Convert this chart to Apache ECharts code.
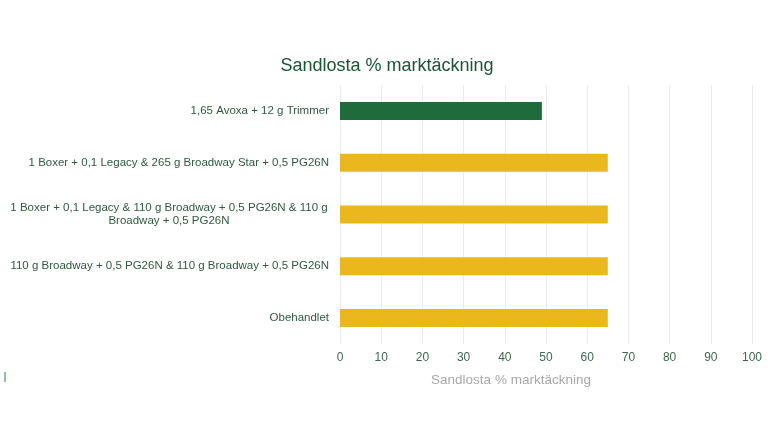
<!DOCTYPE html>
<html>
<head>
    <meta charset="utf-8">
    <title>Sandlosta % marktäckning</title>
    <script src="https://cdn.jsdelivr.net/npm/echarts/dist/echarts.min.js"></script>
</head>
<body style="margin:0">
<div id="chart-container" style="width: 768px; height: 432px;"></div>
<script>
    // behandlingar (uppifrån och ned)
    var treatments = [
        '1,65 Avoxa + 12 g Trimmer',
        '1 Boxer + 0,1 Legacy & 265 g Broadway Star + 0,5 PG26N',
        '1 Boxer + 0,1 Legacy & 110 g Broadway + 0,5 PG26N & 110 g\nBroadway + 0,5 PG26N',
        '110 g Broadway + 0,5 PG26N & 110 g Broadway + 0,5 PG26N',
        'Obehandlet'
    ];
    // marktäckning i procent
    var coverage = [49, 65, 65, 65, 65];
    var xTicks = [0, 10, 20, 30, 40, 50, 60, 70, 80, 90, 100];

    var barColors = ['#1e6b3b', '#eab81c', '#eab81c', '#eab81c', '#eab81c'];

    var option = {
        textStyle: { fontFamily: 'Liberation Sans, Arial, sans-serif' },
        title: {
            text: 'Sandlosta % marktäckning',
            left: 382,
            textAlign: 'center',
            top: 52,
            textStyle: {
                color: '#1b5532',
                fontSize: 18,
                fontWeight: 'normal'
            }
        },
        grid: {
            left: 340,
            right: 16,
            top: 85,
            bottom: 88
        },
        xAxis: {
            type: 'value',
            min: xTicks[0],
            max: xTicks[xTicks.length - 1],
            interval: 10,
            name: 'Sandlosta % marktäckning',
            nameLocation: 'middle',
            nameGap: 29,
            nameTextStyle: { color: '#a8a8a8', fontSize: 13.5, padding: [0, 70, 0, 0] },
            axisLine: { show: false },
            axisTick: { show: false },
            axisLabel: { color: '#3e6a4c', fontSize: 12, margin: 8 },
            splitLine: { lineStyle: { color: '#ececec' } }
        },
        yAxis: {
            type: 'category',
            inverse: true,
            data: treatments,
            axisLine: { show: false },
            axisTick: { show: false },
            axisLabel: {
                color: '#2f5a3c',
                fontSize: 11.5,
                margin: 11,
                lineHeight: 13,
                formatter: function (value) {
                    if (value.indexOf('\n') >= 0) {
                        return '{c|' + value + '}';
                    }
                    return value;
                },
                rich: {
                    c: {
                        width: 320,
                        align: 'center',
                        color: '#2f5a3c',
                        fontSize: 11.5,
                        lineHeight: 13
                    }
                }
            }
        },
        graphic: [{
            type: 'rect',
            shape: { x: 4, y: 372, width: 2, height: 10 },
            style: { fill: '#8fc49e' }
        }],
        series: [{
            type: 'bar',
            data: coverage,
            barWidth: 18,
            itemStyle: {
                color: function (p) { return barColors[p.dataIndex]; }
            }
        }]
    };

    var chart = echarts.init(document.getElementById('chart-container'));
    chart.setOption(option);
</script>
</body>
</html>
